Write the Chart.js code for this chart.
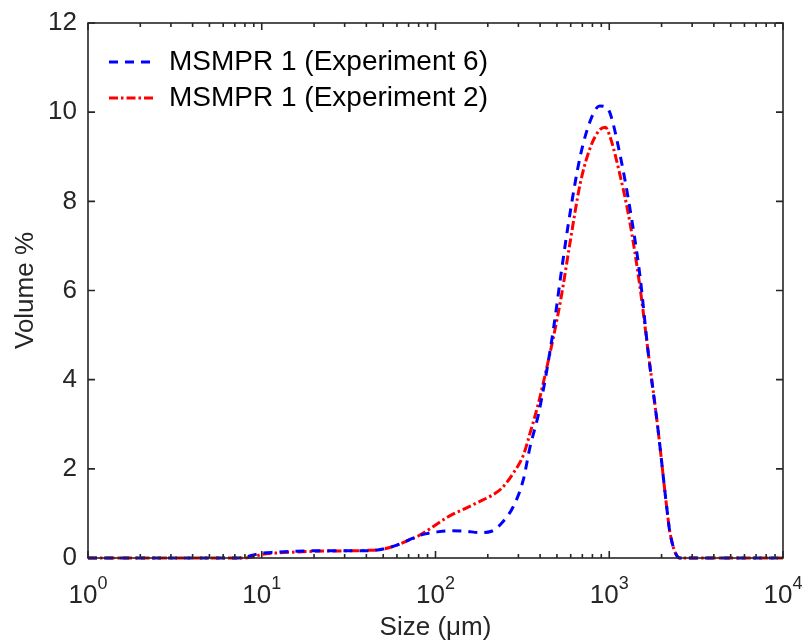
<!DOCTYPE html>
<html><head><meta charset="utf-8">
<script src="https://cdn.jsdelivr.net/npm/chart.js@4.4.0/dist/chart.umd.min.js"></script>
<style>html,body{margin:0;padding:0;background:#fff}#wrap{width:806px;height:642px}</style>
</head><body><div id="wrap"><canvas id="c" width="806" height="642"></canvas></div>
<script>
// Particle sizes (µm)
const sizes = [1, 2, 4, 7, 8, 9, 10, 12, 15, 20, 30, 40, 50, 60, 70, 80, 90, 100, 120, 150, 180, 210, 240, 280, 320, 350, 390, 430, 480, 530, 590, 680, 780, 880, 950, 1010, 1150, 1310, 1500, 1670, 1910, 2140, 2240, 2550, 3500, 5000, 7000, 10000];
// Volume % — MSMPR 1 (Experiment 6)
const exp6 = [0, 0, 0, 0, 0.02, 0.07, 0.11, 0.13, 0.15, 0.16, 0.16, 0.16, 0.2, 0.29, 0.4, 0.5, 0.55, 0.58, 0.61, 0.6, 0.57, 0.6, 0.78, 1.15, 1.75, 2.49, 3.2, 4.05, 5.2, 6.42, 7.65, 9.0, 9.82, 10.14, 10.12, 9.98, 9.07, 7.88, 6.35, 4.66, 2.87, 1.15, 0.55, 0, 0, 0, 0, 0];
// Volume % — MSMPR 1 (Experiment 2)
const exp2 = [0, 0, 0, 0, 0, 0.03, 0.08, 0.11, 0.13, 0.15, 0.16, 0.17, 0.2, 0.29, 0.4, 0.5, 0.62, 0.74, 0.94, 1.12, 1.27, 1.4, 1.56, 1.9, 2.3, 2.8, 3.45, 4.15, 5.0, 5.87, 6.99, 8.39, 9.22, 9.6, 9.66, 9.45, 8.61, 7.56, 6.1, 4.66, 2.87, 1.15, 0.55, 0, 0, 0, 0, 0];
const seriesLabels = ['MSMPR 1 (Experiment 6)', 'MSMPR 1 (Experiment 2)'];
const xTickValues = [1, 10, 100, 1000, 10000];
const xTickBase = '10';
const xTickExponents = ['0', '1', '2', '3', '4'];
const yTickValues = [0, 2, 4, 6, 8, 10, 12];
const xTitle = 'Size (\u03BCm)';
const yTitle = 'Volume %';

const TXT = '#262626';
const FONT = '"Liberation Sans", Arial, Helvetica, sans-serif';

const boxPlugin = {
  id: 'boxTicks',
  afterLayout(chart) {
    const lg = chart.legend, a = chart.chartArea;
    if (!lg) return;
    const w = lg.width, h = lg.height;
    lg.left = a.left + 13; lg.right = lg.left + w + 40;
    lg.top = a.top + 17; lg.bottom = lg.top + h + 40;
    lg.width = lg.right - lg.left;
    lg.height = lg.bottom - lg.top;
  },
  afterDatasetsDraw(chart) {
    const {ctx, chartArea: a, scales: {x, y}} = chart;
    ctx.save();
    ctx.strokeStyle = TXT;
    ctx.lineWidth = 1.6;
    ctx.beginPath();
    const maj = 7, mnr = 4;
    for (let d = 0; d <= 4; d++) {
      const p = x.getPixelForValue(Math.pow(10, d));
      ctx.moveTo(p, a.bottom); ctx.lineTo(p, a.bottom - maj);
      ctx.moveTo(p, a.top); ctx.lineTo(p, a.top + maj);
      if (d < 4) {
        for (let m = 2; m <= 9; m++) {
          const q = x.getPixelForValue(m * Math.pow(10, d));
          ctx.moveTo(q, a.bottom); ctx.lineTo(q, a.bottom - mnr);
          ctx.moveTo(q, a.top); ctx.lineTo(q, a.top + mnr);
        }
      }
    }
    yTickValues.forEach(v => {
      const p = y.getPixelForValue(v);
      ctx.moveTo(a.left, p); ctx.lineTo(a.left + maj, p);
      ctx.moveTo(a.right, p); ctx.lineTo(a.right - maj, p);
    });
    ctx.stroke();
    ctx.strokeRect(a.left, a.top, a.right - a.left, a.bottom - a.top);

    // x tick labels with superscript exponents
    ctx.fillStyle = TXT;
    ctx.textBaseline = 'alphabetic';
    ctx.textAlign = 'left';
    xTickValues.forEach((v, i) => {
      const p = x.getPixelForValue(v);
      ctx.font = '26px ' + FONT;
      const wb = ctx.measureText(xTickBase).width;
      ctx.font = '18px ' + FONT;
      const we = ctx.measureText(xTickExponents[i]).width;
      const start = p - (wb + we) / 2;
      ctx.font = '26px ' + FONT;
      ctx.fillText(xTickBase, start, a.bottom + 45);
      ctx.font = '18px ' + FONT;
      ctx.fillText(xTickExponents[i], start + wb, a.bottom + 31);
    });
    ctx.restore();
  }
};

new Chart(document.getElementById('c'), {
  type: 'line',
  data: {
    datasets: [
      {
        label: seriesLabels[0],
        data: sizes.map((s, i) => ({x: s, y: exp6[i]})),
        borderColor: '#0000ff',
        backgroundColor: '#0000ff',
        borderWidth: 3,
        borderDash: [9, 7],
        pointRadius: 0,
        fill: false,
        cubicInterpolationMode: 'monotone',
        clip: 6
      },
      {
        label: seriesLabels[1],
        data: sizes.map((s, i) => ({x: s, y: exp2[i]})),
        borderColor: '#ff0000',
        backgroundColor: '#ff0000',
        borderWidth: 3,
        borderDash: [9, 3, 2.5, 3],
        pointRadius: 0,
        fill: false,
        cubicInterpolationMode: 'monotone',
        clip: 6
      }
    ]
  },
  options: {
    responsive: false,
    animation: false,
    events: [],
    layout: {padding: {left: 0, top: 23, right: 23, bottom: 0}},
    plugins: {
      tooltip: {enabled: false},
      legend: {
        position: 'chartArea',
        align: 'start',
        labels: {
          usePointStyle: true,
          pointStyle: 'line',
          pointStyleWidth: 46,
          padding: 8,
          color: '#000',
          font: {family: FONT, size: 28},
          generateLabels(chart) {
            return chart.data.datasets.map((ds, i) => ({
              text: ds.label,
              fillStyle: 'rgba(0,0,0,0)',
              strokeStyle: ds.borderColor,
              lineWidth: ds.borderWidth,
              lineDash: ds.borderDash,
              lineDashOffset: 0,
              lineCap: 'butt',
              pointStyle: 'line',
              hidden: false,
              datasetIndex: i,
              fontColor: '#000'
            }));
          }
        }
      }
    },
    scales: {
      x: {
        type: 'logarithmic',
        min: 1, max: 10000,
        afterFit(s) { s.height = 84; s.paddingLeft = 0; s.paddingRight = 0; },
        afterBuildTicks(s) { s.ticks = xTickValues.map(v => ({value: v, major: true})); },
        grid: {display: false, drawTicks: false},
        border: {display: false},
        ticks: {display: false},
        title: {display: true, text: xTitle, color: TXT, font: {family: FONT, size: 26, lineHeight: 1.2}, padding: {top: 0, bottom: -1}}
      },
      y: {
        min: 0, max: 12,
        afterFit(s) { s.width = 88; s.paddingTop = 0; s.paddingBottom = 0; },
        afterBuildTicks(s) { s.ticks = yTickValues.map(v => ({value: v})); },
        grid: {display: false, drawTicks: false},
        border: {display: false},
        ticks: {padding: 11, color: TXT, font: {family: FONT, size: 26}},
        title: {display: true, text: yTitle, color: TXT, font: {family: FONT, size: 26, lineHeight: 1.2}, padding: {top: 10, bottom: 0}}
      }
    }
  },
  plugins: [boxPlugin]
});
</script>
</body></html>
